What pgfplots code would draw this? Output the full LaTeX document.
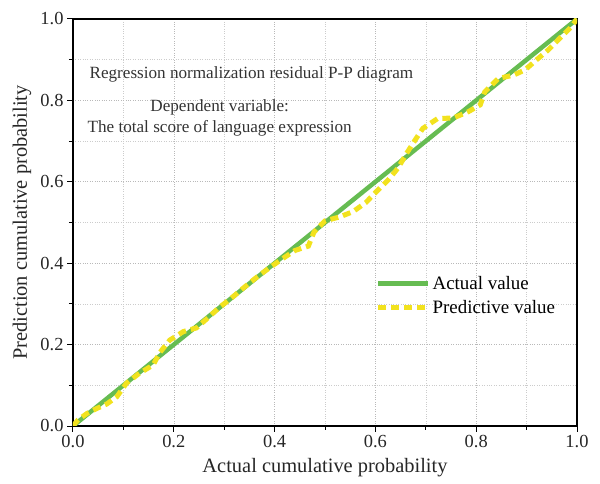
\documentclass[border=0pt]{standalone}
\usepackage{pgfplots}
\pgfplotsset{compat=1.18}
\usepackage{fontspec}
\setmainfont{Liberation Serif}
\definecolor{ggreen}{RGB}{102,188,82}
\definecolor{gyellow}{RGB}{242,226,30}
\begin{document}
\begin{tikzpicture}
\begin{axis}[
  scale only axis, width=504bp, height=407bp,
  xmin=0, xmax=1, ymin=0, ymax=1,
  xtick={0,0.2,...,1.0}, ytick={0,0.2,...,1.0},
  minor tick num=1,
  tick align=outside, tick pos=left,
  major tick length=6bp, minor tick length=4bp,
  every tick/.style={black, line width=1bp},
  grid=both,
  major grid style={gray!55, dotted, line width=0.6bp},
  minor grid style={gray!40, dotted, line width=0.5bp},
  axis line style={black, line width=1.3bp},
  xticklabel style={/pgf/number format/.cd, fixed, fixed zerofill, precision=1},
  yticklabel style={/pgf/number format/.cd, fixed, fixed zerofill, precision=1},
  /pgf/number format/assume math mode=true,
  tick label style={font=\fontsize{18.5}{20}\selectfont, text=black!85},
  label style={font=\fontsize{20.5}{22}\selectfont, text=black!85},
  xlabel={Actual cumulative probability},
  ylabel={Prediction cumulative probability},
  xlabel style={at={(axis description cs:0.5,-0.103)}, anchor=center},
  ylabel style={at={(axis description cs:-0.101,0.5)}, anchor=center},
  legend style={draw=none, fill=none, at={(0.6,0.373)}, anchor=north west,
    font=\fontsize{19}{22}\selectfont, row sep=5bp, inner sep=0pt,
    nodes={inner sep=2bp}},
  legend cell align=left,
  legend image code/.code={\draw[#1] (0bp,0bp) -- (50bp,0bp);},
]
\addplot[ggreen, line width=4.5bp] coordinates {(0,0) (1,1)};
\addlegendentry{Actual value}
\addplot[gyellow, line width=5bp, dash pattern=on 8bp off 5bp] coordinates {
(0,0) (0.01,0.015) (0.028,0.031) (0.047,0.043) (0.067,0.054) (0.087,0.072)
(0.106,0.105) (0.13,0.128) (0.159,0.15) (0.172,0.18) (0.192,0.211)
(0.219,0.232) (0.245,0.241) (0.268,0.266) (0.29,0.291) (0.314,0.314)
(0.337,0.338) (0.364,0.365) (0.388,0.387) (0.412,0.408) (0.44,0.431)
(0.467,0.442) (0.478,0.476) (0.5,0.504) (0.53,0.514) (0.556,0.527)
(0.581,0.549) (0.602,0.576) (0.625,0.604) (0.645,0.634) (0.662,0.67)
(0.679,0.703) (0.694,0.731) (0.723,0.755) (0.755,0.757) (0.784,0.772)
(0.808,0.789) (0.817,0.821) (0.844,0.854) (0.874,0.862) (0.897,0.875)
(0.92,0.9) (0.943,0.924) (0.966,0.953) (0.989,0.981) (1,1)};
\addlegendentry{Predictive value}
\node[anchor=west, font=\fontsize{17.2}{19}\selectfont, text=black!80] at (axis cs:0.026,0.865) {Regression normalization residual P-P diagram};
\node[align=center, font=\fontsize{17.2}{21}\selectfont, text=black!80] at (axis cs:0.291,0.756) {Dependent variable:\\The total score of language expression};
\end{axis}
\pgfresetboundingbox
\path[use as bounding box] ([shift={(-73bp,-58bp)}]current axis.south west) rectangle ([shift={(23bp,19bp)}]current axis.north east);
\end{tikzpicture}
\end{document}
